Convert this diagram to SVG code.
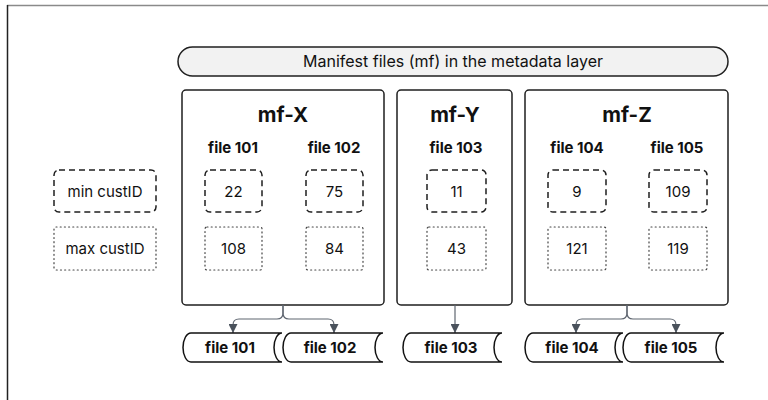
<svg xmlns="http://www.w3.org/2000/svg" width="768" height="400" viewBox="0 0 768 400">
  <defs>
    <style>
      .box { fill: #ffffff; stroke: #1f1f1f; stroke-width: 1.5; }
      .title { font-family: Inter, "Liberation Sans", sans-serif; font-weight: 700; font-size: 20.5px; fill: #111; text-anchor: middle; }
      .file { font-family: Inter, "Liberation Sans", sans-serif; font-weight: 700; font-size: 15px; fill: #111; text-anchor: middle; }
      .val { font-family: Inter, "Liberation Sans", sans-serif; font-size: 15px; fill: #111; text-anchor: middle; }
      .dash { fill: #ffffff; stroke: #1f1f1f; stroke-width: 1.5; stroke-dasharray: 6 4; }
      .dot { fill: #ffffff; stroke: #444; stroke-width: 1.2; stroke-dasharray: 1 3.2; stroke-linecap: round; }
      .drum { fill: #ffffff; stroke: #111; stroke-width: 1.5; }
      .conn { fill: none; stroke: #5f6670; stroke-width: 1.2; }
    </style>
    <marker id="arrow" viewBox="0 0 10 10" refX="10" refY="5" markerWidth="9" markerHeight="9" markerUnits="userSpaceOnUse" orient="auto">
      <path d="M0,0 L10,5 L0,10 Z" fill="#4a525c"/>
    </marker>
  </defs>

  <rect width="768" height="400" fill="#ffffff"/>
  <!-- outer frame -->
  <line x1="7" y1="5.5" x2="768" y2="5.5" stroke="#8a8a8a" stroke-width="1.5"/>
  <line x1="7.5" y1="5" x2="7.5" y2="400" stroke="#222" stroke-width="1.5"/>

  <!-- banner -->
  <g id="banner">
    <rect x="178" y="47" width="550" height="29" rx="14.5" fill="#f2f2f2" stroke="#1f1f1f" stroke-width="1.5"/>
    <text class="val" x="453" y="67" style="font-size:16px">Manifest files (mf) in the metadata layer</text>
  </g>

  <!-- legend -->
  <g id="legend-min">
    <rect class="dash" x="54" y="170" width="102" height="42" rx="5"/>
    <text class="val" x="105" y="196.5">min custID</text>
  </g>
  <g id="legend-max">
    <rect class="dot" x="54" y="227" width="102" height="43" rx="2"/>
    <text class="val" x="105" y="253.5">max custID</text>
  </g>

  <!-- manifest mf-X -->
  <g id="mf-X">
    <rect class="box" x="182" y="90" width="202" height="215" rx="4"/>
    <text class="title" x="283" y="122">mf-X</text>
    <text class="file" x="233" y="153">file 101</text>
    <text class="file" x="334" y="153">file 102</text>
    <rect class="dash" x="205" y="170" width="57" height="42" rx="5"/>
    <text class="val" x="233.5" y="196.5">22</text>
    <rect class="dash" x="306" y="170" width="57" height="42" rx="5"/>
    <text class="val" x="334.5" y="196.5">75</text>
    <rect class="dot" x="205" y="227" width="57" height="43" rx="2"/>
    <text class="val" x="233.5" y="253.5">108</text>
    <rect class="dot" x="306" y="227" width="57" height="43" rx="2"/>
    <text class="val" x="334.5" y="253.5">84</text>
  </g>

  <!-- manifest mf-Y -->
  <g id="mf-Y">
    <rect class="box" x="397" y="90" width="115" height="215" rx="4"/>
    <text class="title" x="455" y="122">mf-Y</text>
    <text class="file" x="456" y="153">file 103</text>
    <rect class="dash" x="427" y="170" width="59" height="42" rx="5"/>
    <text class="val" x="456.5" y="196.5">11</text>
    <rect class="dot" x="427" y="227" width="59" height="43" rx="2"/>
    <text class="val" x="456.5" y="253.5">43</text>
  </g>

  <!-- manifest mf-Z -->
  <g id="mf-Z">
    <rect class="box" x="525" y="90" width="203" height="215" rx="4"/>
    <text class="title" x="627" y="122">mf-Z</text>
    <text class="file" x="577" y="153">file 104</text>
    <text class="file" x="677" y="153">file 105</text>
    <rect class="dash" x="548" y="170" width="58" height="42" rx="5"/>
    <text class="val" x="577" y="196.5">9</text>
    <rect class="dash" x="649" y="170" width="58" height="42" rx="5"/>
    <text class="val" x="678" y="196.5">109</text>
    <rect class="dot" x="548" y="227" width="58" height="43" rx="2"/>
    <text class="val" x="577" y="253.5">121</text>
    <rect class="dot" x="649" y="227" width="58" height="43" rx="2"/>
    <text class="val" x="678" y="253.5">119</text>
  </g>

  <!-- connectors -->
  <g id="connectors">
    <path class="conn" d="M283,305 V313 Q283,319 277,319 H239 Q233,319 233,325 V333" marker-end="url(#arrow)"/>
    <path class="conn" d="M283,305 V313 Q283,319 289,319 H328 Q334,319 334,325 V333" marker-end="url(#arrow)"/>
    <path class="conn" d="M455,305 V333" marker-end="url(#arrow)"/>
    <path class="conn" d="M627,305 V313 Q627,319 621,319 H582 Q576,319 576,325 V333" marker-end="url(#arrow)"/>
    <path class="conn" d="M627,305 V313 Q627,319 633,319 H670 Q676,319 676,325 V333" marker-end="url(#arrow)"/>
  </g>

  <!-- data files -->
  <g id="file-101">
    <path class="drum" d="M191,333 H282 A8,14.5 0 0 0 282,362 H191 A8,14.5 0 0 1 191,333 Z"/>
    <text class="file" x="230" y="353">file 101</text>
  </g>
  <g id="file-102">
    <path class="drum" d="M291,333 H383 A8,14.5 0 0 0 383,362 H291 A8,14.5 0 0 1 291,333 Z"/>
    <text class="file" x="330" y="353">file 102</text>
  </g>
  <g id="file-103">
    <path class="drum" d="M411,333 H502 A8,14.5 0 0 0 502,362 H411 A8,14.5 0 0 1 411,333 Z"/>
    <text class="file" x="451" y="353">file 103</text>
  </g>
  <g id="file-104">
    <path class="drum" d="M533,333 H623 A8,14.5 0 0 0 623,362 H533 A8,14.5 0 0 1 533,333 Z"/>
    <text class="file" x="572" y="353">file 104</text>
  </g>
  <g id="file-105">
    <path class="drum" d="M631,333 H724 A8,14.5 0 0 0 724,362 H631 A8,14.5 0 0 1 631,333 Z"/>
    <text class="file" x="671" y="353">file 105</text>
  </g>
</svg>
